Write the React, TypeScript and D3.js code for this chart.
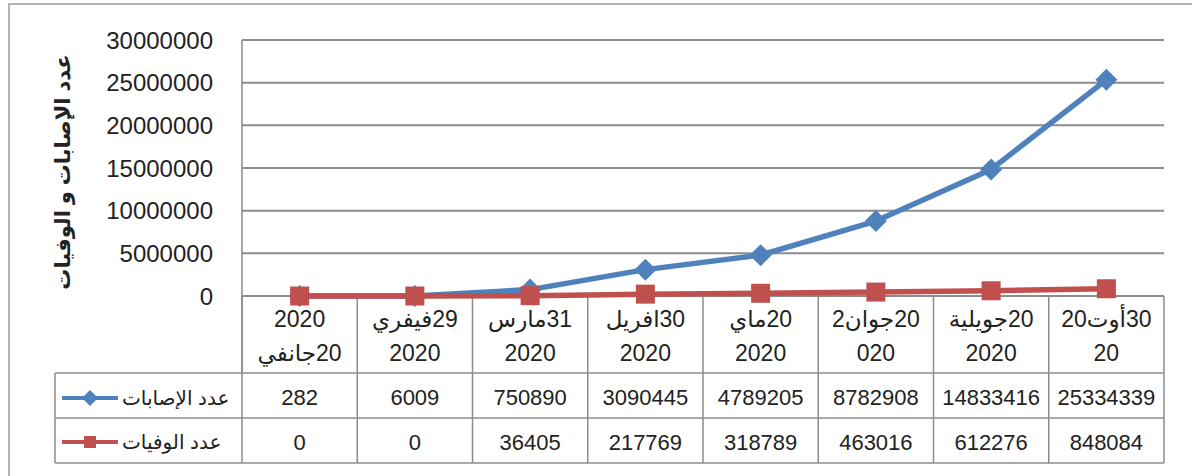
import React from "react";
import * as d3 from "d3";

const catLine1 = ["2020", "29فيفري", "31مارس", "30افريل", "20ماي", "20جوان2", "20جويلية", "30أوت20"];
const catLine2 = ["20جانفي", "2020", "2020", "2020", "2020", "020", "2020", "20"];
const cases = [282, 6009, 750890, 3090445, 4789205, 8782908, 14833416, 25334339];
const deaths = [0, 0, 36405, 217769, 318789, 463016, 612276, 848084];
const yTicks = [0, 5000000, 10000000, 15000000, 20000000, 25000000, 30000000];
const seriesNames = ["عدد الإصابات", "عدد الوفيات"];
const yTitle = "عدد الإصابات و الوفيات";

const W = 1192;
const H = 476;
const plotL = 242;
const plotR = 1164;
const plotT = 40;
const plotB = 296;
const tableL = 55;
const row1 = 373;
const row2 = 418;
const row3 = 463;

const BLUE = "#4F81BD";
const RED = "#C0504D";
const GRID = "#8c8c8c";
const FONT = "'Liberation Sans', Arial, 'DejaVu Sans', sans-serif";

export default function App() {
  const idx = cases.map((_, i) => i);
  const x = d3.scaleBand<number>().domain(idx).range([plotL, plotR]).padding(0);
  const cx = (i: number) => (x(i) as number) + x.bandwidth() / 2;
  const y = d3.scaleLinear().domain([0, 30000000]).range([plotB, plotT]);

  const line = d3
    .line<number>()
    .x((_, i) => cx(i))
    .y((d) => y(d));

  const diamond = (px: number, py: number, r: number) =>
    `M${px},${py - r}L${px + r},${py}L${px},${py + r}L${px - r},${py}Z`;

  const colEdges = [...idx.map((i) => x(i) as number), plotR];

  return (
    <svg
      width={W}
      height={H}
      style={{ position: "absolute", left: 0, top: 0, background: "#fff" }}
      fontFamily={FONT}
    >
      <rect x={0} y={0} width={W} height={H} fill="#fff" />
      {/* outer frame */}
      <rect x={9} y={4} width={1200} height={500} fill="none" stroke="#9a9a9a" strokeWidth={1.5} />

      {/* gridlines */}
      {yTicks.map((t) => (
        <line key={t} x1={plotL} x2={plotR} y1={y(t)} y2={y(t)} stroke={GRID} strokeWidth={2} />
      ))}
      <line x1={plotL} x2={plotL} y1={plotT} y2={row1} stroke={GRID} strokeWidth={1.5} />

      {/* y tick labels */}
      {yTicks.map((t) => (
        <text key={t} x={213} y={y(t) + 8.5} textAnchor="end" fontSize={24} fill="#222">
          {String(t)}
        </text>
      ))}

      {/* y title */}
      <text
        transform={`translate(70,172) rotate(-90)`}
        textAnchor="middle"
        fontSize={21}
        fontWeight="bold"
        fill="#222"
        direction="rtl"
      >
        {yTitle}
      </text>

      {/* table */}
      {colEdges.map((cxE, i) => (
        <line key={i} x1={cxE} x2={cxE} y1={plotB} y2={row3} stroke={GRID} strokeWidth={1.5} />
      ))}
      <line x1={tableL} x2={tableL} y1={row1} y2={row3} stroke={GRID} strokeWidth={1.5} />
      {[row1, row2, row3].map((r) => (
        <line key={r} x1={tableL} x2={plotR} y1={r} y2={r} stroke={GRID} strokeWidth={1.5} />
      ))}

      {/* category labels */}
      {idx.map((i) => (
        <g key={i}>
          <text x={cx(i)} y={327} textAnchor="middle" fontSize={23} fill="#222" direction="rtl">
            {catLine1[i]}
          </text>
          <text x={cx(i)} y={361} textAnchor="middle" fontSize={23} fill="#222" direction="rtl">
            {catLine2[i]}
          </text>
          <text x={cx(i)} y={405} textAnchor="middle" fontSize={22} fill="#222">
            {String(cases[i])}
          </text>
          <text x={cx(i)} y={450} textAnchor="middle" fontSize={22} fill="#222">
            {String(deaths[i])}
          </text>
        </g>
      ))}

      {/* legend keys */}
      <line x1={62} x2={118} y1={398} y2={398} stroke={BLUE} strokeWidth={4} />
      <path d={diamond(90, 398, 8)} fill={BLUE} />
      <text x={122} y={405} fontSize={20} fill="#222" direction="ltr">
        {seriesNames[0]}
      </text>
      <line x1={62} x2={118} y1={442} y2={442} stroke={RED} strokeWidth={4} />
      <rect x={84} y={436} width={12} height={12} fill={RED} />
      <text x={122} y={449} fontSize={20} fill="#222" direction="ltr">
        {seriesNames[1]}
      </text>

      {/* series */}
      <path d={line(cases) || ""} fill="none" stroke={BLUE} strokeWidth={5.5} strokeLinejoin="round" />
      {cases.map((v, i) => (
        <path key={i} d={diamond(cx(i), y(v), 11)} fill={BLUE} />
      ))}
      <path d={line(deaths) || ""} fill="none" stroke={RED} strokeWidth={5.5} strokeLinejoin="round" />
      {deaths.map((v, i) => (
        <rect key={i} x={cx(i) - 9.5} y={y(v) - 9.5} width={19} height={19} fill={RED} />
      ))}
    </svg>
  );
}
